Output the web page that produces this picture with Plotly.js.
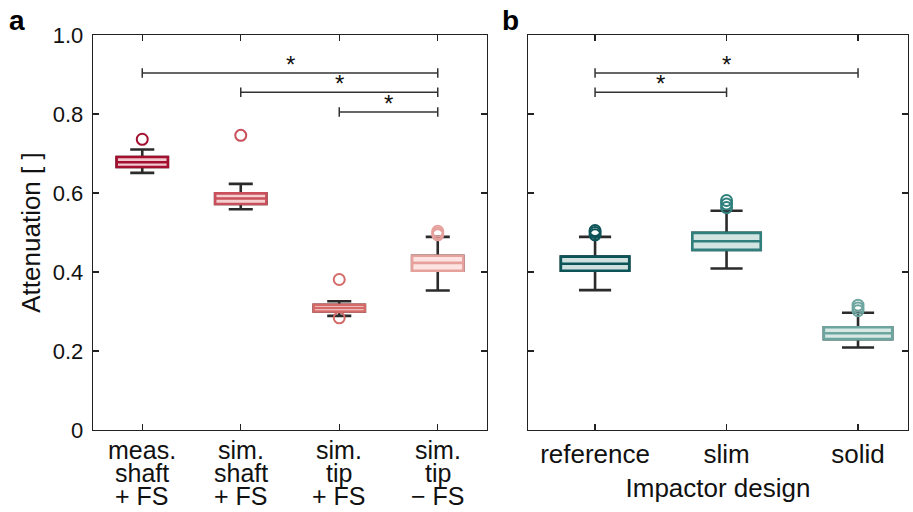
<!DOCTYPE html>
<html>
<head>
<meta charset="utf-8">
<script src="https://cdn.plot.ly/plotly-3.0.1.min.js"></script>
<style>html,body{margin:0;padding:0;background:#fff;}#chart{width:913px;height:512px;}</style>
</head>
<body>
<div id="chart"></div>
<script>
// Panel a data
const catsA = ["meas.<br>shaft<br>+ FS", "sim.<br>shaft<br>+ FS", "sim.<br>tip<br>+ FS", "sim.<br>tip<br>\u2212 FS"];
const lowA = [0.651, 0.559, 0.289, 0.353];
const q1A = [0.666, 0.572, 0.300, 0.403];
const medA = [0.678, 0.586, 0.309, 0.423];
const q3A = [0.691, 0.599, 0.317, 0.441];
const highA = [0.710, 0.623, 0.326, 0.489];
const outXA = [0, 1, 2, 2, 3, 3, 3];
const outYA = [0.736, 0.746, 0.381, 0.284, 0.494, 0.498, 0.503];
const lineColA = ["#a3102f", "#c9505a", "#d46b69", "#e6a19d"];
const fillColA = ["#f2c8cf", "#f4d0d1", "#f6d6d4", "#fde4e2"];

// Panel b data
const catsB = ["reference", "slim", "solid"];
const lowB = [0.354, 0.409, 0.209];
const q1B = [0.403, 0.456, 0.230];
const medB = [0.421, 0.478, 0.245];
const q3B = [0.439, 0.499, 0.260];
const highB = [0.489, 0.555, 0.297];
const outXB = [0, 0, 0, 1, 1, 1, 2, 2, 2];
const outYB = [0.494, 0.500, 0.505, 0.563, 0.572, 0.581, 0.302, 0.309, 0.316];
const lineColB = ["#0d5459", "#2f7f7c", "#6da59f"];
const fillColB = ["#cfe0df", "#d2e4e1", "#d7e8e5"];

// Significance brackets [from, to, level]
const bracketsA = [[0, 3, 0.904], [1, 3, 0.855], [2, 3, 0.805]];
const bracketsB = [[0, 2, 0.904], [0, 1, 0.855]];

const FONT = "Liberation Sans, Arial, sans-serif";
const FS = 22;
const FL = 26;
const traces = [];
function addGroup(cats, low, q1, med, q3, high, lineCol, fillCol, xa, ya) {
  for (let i = 0; i < cats.length; i++) {
    traces.push({
      type: "box", x: [i], q1: [q1[i]], median: [med[i]], q3: [q3[i]],
      lowerfence: [low[i]], upperfence: [high[i]], xaxis: xa, yaxis: ya,
      width: 0.52, whiskerwidth: 0.47, line: {color: "#2b2b2b", width: 2.6},
      fillcolor: "#2b2b2b", boxpoints: false, showlegend: false, hoverinfo: "skip"
    });
    traces.push({
      type: "box", x: [i], q1: [q1[i]], median: [med[i]], q3: [q3[i]],
      lowerfence: [q1[i]], upperfence: [q3[i]], xaxis: xa, yaxis: ya,
      width: 0.52, whiskerwidth: 0, line: {color: lineCol[i], width: 2.6},
      fillcolor: fillCol[i], boxpoints: false, showlegend: false
    });
  }
}
addGroup(catsA, lowA, q1A, medA, q3A, highA, lineColA, fillColA, "x", "y");
addGroup(catsB, lowB, q1B, medB, q3B, highB, lineColB, fillColB, "x2", "y2");

traces.push({
  type: "scatter", mode: "markers", x: outXA, y: outYA, xaxis: "x", yaxis: "y",
  marker: {symbol: "circle-open", size: 11, color: outXA.map(i => lineColA[i]), line: {width: 2}},
  showlegend: false
});
traces.push({
  type: "scatter", mode: "markers", x: outXB, y: outYB, xaxis: "x2", yaxis: "y2",
  marker: {symbol: "circle-open", size: 11, color: outXB.map(i => lineColB[i]), line: {width: 2}},
  showlegend: false
});

const shapes = [];
const annotations = [];
function addBrackets(list, xr, yr) {
  list.forEach(b => {
    const [a, c, y] = b;
    const ln = {color: "#333333", width: 1.5};
    shapes.push({type: "line", xref: xr, yref: yr, x0: a, x1: c, y0: y, y1: y, line: ln});
    shapes.push({type: "line", xref: xr, yref: yr, x0: a, x1: a, y0: y - 0.012, y1: y + 0.012, line: ln});
    shapes.push({type: "line", xref: xr, yref: yr, x0: c, x1: c, y0: y - 0.012, y1: y + 0.012, line: ln});
    annotations.push({xref: xr, yref: yr, x: (a + c) / 2, y: y, text: "*", showarrow: false,
      yanchor: "bottom", yshift: -7, font: {family: FONT, size: 24, color: "#111"}});
  });
}
addBrackets(bracketsA, "x", "y");
addBrackets(bracketsB, "x2", "y2");

// multi-line category labels of panel a, set with tight line spacing
const yBottom = 1 - 430 / 512;
catsA.forEach((lab, i) => {
  lab.split("<br>").forEach((line, k) => {
    annotations.push({xref: "x", yref: "paper", x: i, y: yBottom, text: line, showarrow: false,
      xanchor: "center", yanchor: "top", yshift: -5 - k * 22.8, borderpad: 0,
      font: {family: FONT, size: 25, color: "#111"}});
  });
});

annotations.push({xref: "paper", yref: "paper", x: 17 / 913, y: 1 - 20 / 512, text: "<b>a</b>",
  showarrow: false, xanchor: "center", yanchor: "middle", font: {family: FONT, size: 28, color: "#000"}});
annotations.push({xref: "paper", yref: "paper", x: 510 / 913, y: 1 - 20 / 512, text: "<b>b</b>",
  showarrow: false, xanchor: "center", yanchor: "middle", font: {family: FONT, size: 28, color: "#000"}});

const axFont = {family: FONT, size: FS, color: "#111"};
const common = {
  showline: true, linecolor: "#222", linewidth: 1.3, mirror: "ticks", ticks: "inside",
  ticklen: 6, tickcolor: "#222", tickwidth: 1.3, showgrid: false, zeroline: false,
  tickfont: axFont
};
const yDom = [yBottom, 1 - 35 / 512];
const layout = {
  width: 913, height: 512, margin: {l: 0, r: 0, t: 0, b: 0},
  paper_bgcolor: "#fff", plot_bgcolor: "#fff", boxmode: "overlay",
  font: {family: FONT},
  xaxis: Object.assign({}, common, {domain: [93 / 913, 487 / 913], range: [-0.5, 3.5], anchor: "y",
    tickvals: [0, 1, 2, 3], showticklabels: false}),
  yaxis: Object.assign({}, common, {domain: yDom, range: [0, 1], tickvals: [0, 0.2, 0.4, 0.6, 0.8, 1.0],
    ticktext: ["0", "0.2", "0.4", "0.6", "0.8", "1.0"], anchor: "x", ticklabelstandoff: 4,
    title: {text: "Attenuation [ ]", font: {family: FONT, size: FL, color: "#111"}, standoff: 4}}),
  xaxis2: Object.assign({}, common, {domain: [528 / 913, 908 / 913], range: [-0.51, 2.38], anchor: "y2",
    tickvals: [0, 1, 2], ticktext: catsB, ticklabelstandoff: 0,
    tickfont: {family: FONT, size: FL, color: "#111"},
    title: {text: "Impactor design", font: {family: FONT, size: FL, color: "#111"}, standoff: 11}}),
  yaxis2: Object.assign({}, common, {domain: yDom, range: [0, 1], tickvals: [0, 0.2, 0.4, 0.6, 0.8, 1.0],
    showticklabels: false, anchor: "x2"}),
  shapes: shapes, annotations: annotations
};
Plotly.newPlot("chart", traces, layout, {displayModeBar: false, staticPlot: true});
</script>
</body>
</html>
